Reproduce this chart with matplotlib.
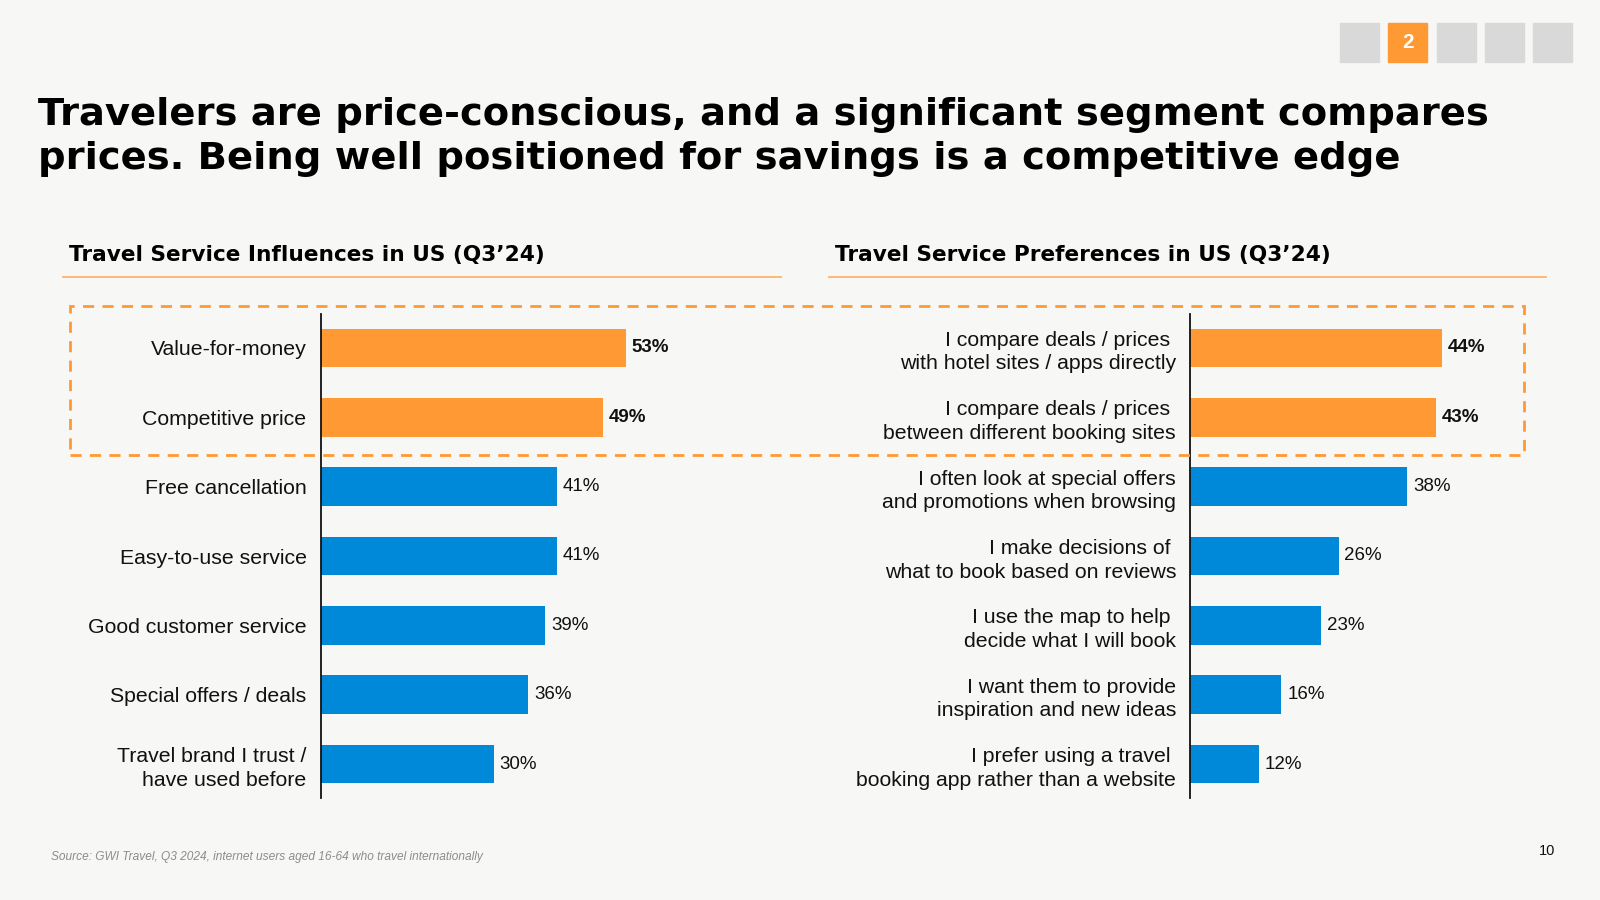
import matplotlib.pyplot as plt
from matplotlib.patches import Rectangle
from matplotlib.lines import Line2D

plt.rcParams['font.family'] = ['Liberation Sans', 'DejaVu Sans']

left_labels = ['Value-for-money', 'Competitive price', 'Free cancellation',
               'Easy-to-use service', 'Good customer service', 'Special offers / deals',
               'Travel brand I trust /\nhave used before']
left_values = [53, 49, 41, 41, 39, 36, 30]

right_labels = ['I compare deals / prices \nwith hotel sites / apps directly',
                'I compare deals / prices \nbetween different booking sites',
                'I often look at special offers\nand promotions when browsing',
                'I make decisions of \nwhat to book based on reviews',
                'I use the map to help \ndecide what I will book',
                'I want them to provide\ninspiration and new ideas',
                'I prefer using a travel \nbooking app rather than a website']
right_values = [44, 43, 38, 26, 23, 16, 12]

highlight = [True, True, False, False, False, False, False]

title = ('Travelers are price-conscious, and a significant segment compares\n'
         'prices. Being well positioned for savings is a competitive edge')
left_title = 'Travel Service Influences in US (Q3\u201924)'
right_title = 'Travel Service Preferences in US (Q3\u201924)'
source = 'Source: GWI Travel, Q3 2024, internet users aged 16-64 who travel internationally'

orange = '#FF9933'
blue = '#0088D9'
bg = '#F7F7F5'

W, H = 1600, 900
fig = plt.figure(figsize=(16, 9), dpi=100, facecolor=bg)


def fx(px):
    return px / W


def fy(py):
    return 1 - py / H


def draw_bars(ax, labels, values):
    ax.set_facecolor('none')
    colors = [orange if h else blue for h in highlight]
    ypos = list(range(len(values)))
    ax.barh(ypos, values, height=0.56, color=colors)
    for y, v, h in zip(ypos, values, highlight):
        ax.text(v + 1.0, y, f'{v}%', va='center', ha='left', fontsize=13.5,
                fontweight='bold' if h else 'normal', color='#111111')
    ax.set_yticks(ypos)
    ax.set_yticklabels(labels, fontsize=15.3, color='#111111', linespacing=1.3)
    ax.tick_params(axis='y', length=0, pad=10)
    ax.set_xticks([])
    ax.set_xlim(0, 60)
    ax.set_ylim(6.49, -0.49)
    for s in ['top', 'right', 'bottom']:
        ax.spines[s].set_visible(False)
    ax.spines['left'].set_linewidth(1.3)
    ax.spines['left'].set_color('#111111')


ax1 = fig.add_axes([fx(320.5), fy(798), fx(346), 484 / H])
draw_bars(ax1, left_labels, left_values)
ax2 = fig.add_axes([fx(1190), fy(798), fx(343), 484 / H])
draw_bars(ax2, right_labels, right_values)

fig.text(fx(38), fy(137), title, fontsize=27.7, fontweight='bold', va='center',
         ha='left', linespacing=1.3, color='#000000', family='DejaVu Sans')

fig.text(fx(69), fy(255), left_title, fontsize=15.6, fontweight='bold',
         va='center', ha='left', color='#000000', family='DejaVu Sans')
fig.text(fx(835), fy(255), right_title, fontsize=15.6, fontweight='bold',
         va='center', ha='left', color='#000000', family='DejaVu Sans')
fig.add_artist(Line2D([fx(63), fx(781)], [fy(276.5), fy(276.5)],
                      color='#FFB36B', linewidth=1.3))
fig.add_artist(Line2D([fx(829), fx(1546)], [fy(276.5), fy(276.5)],
                      color='#FFB36B', linewidth=1.3))

fig.add_artist(Rectangle((fx(69.5), fy(455)), fx(1523.5 - 69.5), (455 - 306) / H,
                         fill=False, edgecolor=orange, linewidth=2,
                         linestyle=(0, (4, 3)), transform=fig.transFigure))

for i in range(5):
    x0 = 1340 + i * 48.3
    fig.add_artist(Rectangle((fx(x0), fy(62)), fx(39), 39 / H,
                             color=orange if i == 1 else '#D9D9D9',
                             transform=fig.transFigure))
fig.text(fx(1340 + 48.3 + 19.5), fy(43), '2', color='white', fontsize=15,
         fontweight='bold', ha='center', va='center')

fig.text(fx(51), fy(857), source, fontsize=8.6, style='italic', color='#8C8C8C',
         va='center', ha='left')
fig.text(fx(1547), fy(851), '10', fontsize=10.5, color='#111111',
         va='center', ha='center')

fig.savefig('out.png', dpi=100, facecolor=bg)
